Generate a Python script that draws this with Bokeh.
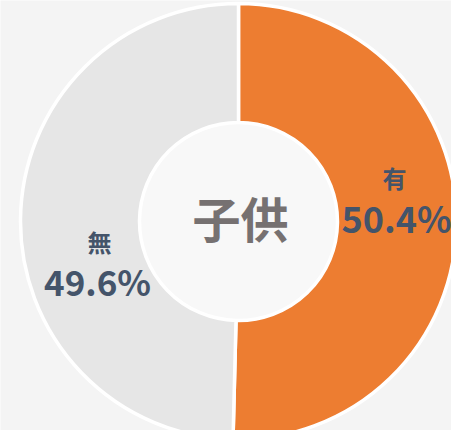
import numpy as np
from bokeh.plotting import figure
from bokeh.models import Range1d
from bokeh.core.properties import value
from bokeh.embed import file_html
from bokeh.resources import INLINE

# ---- data ----
categories = ["有", "無"]
shares = [50.4, 49.6]
share_labels = ["50.4%", "49.6%"]
colors = ["#ED7D31", "#E6E6E6"]
center_title = "子供"

# ---- layout (reference pixel space, y flipped) ----
H = 446
W_FIG, H_FIG = 451, 430
cx, cy = 246, H - 229
R_OUT, R_IN = 218, 99
FONT = "Noto Sans CJK JP"

p = figure(width=W_FIG, height=H_FIG, output_backend="svg", toolbar_location=None,
           x_range=Range1d(8, 8 + W_FIG), y_range=Range1d(H - 8 - H_FIG, H - 8),
           min_border=0)
p.axis.visible = False
p.grid.visible = False
p.outline_line_color = None
p.background_fill_color = "#F4F4F4"
p.border_fill_color = "#F4F4F4"

frac = np.array(shares) / sum(shares)
cum = np.concatenate([[0], np.cumsum(frac)]) * 2 * np.pi
start = np.pi / 2 - cum[:-1]
end = np.pi / 2 - cum[1:]

p.circle(x=[cx], y=[cy], radius=R_IN, fill_color="#F8F8F8", line_color=None)
p.annular_wedge(x=cx, y=cy, inner_radius=R_IN, outer_radius=R_OUT,
                start_angle=start, end_angle=end, direction="clock",
                fill_color=colors, line_color="white", line_width=3.5)

p.text(x=[cx + 2], y=[H - 224], text=[center_title], text_font=value(FONT),
       text_font_style="bold", text_font_size="48px", text_color="#767171",
       text_align="center", text_baseline="middle")

# category labels
lab_pos = [(402, 185, 404, 224), (107, 249, 105, 288)]
val_sizes = ["36px", "35px"]
for (nx, ny, vx, vy), cat, lab, vs in zip(lab_pos, categories, share_labels, val_sizes):
    p.text(x=[nx], y=[H - ny], text=[cat], text_font=value(FONT), text_font_style="bold",
           text_font_size="24px", text_color="#44546A", text_align="center",
           text_baseline="middle")
    p.text(x=[vx], y=[H - vy], text=[lab], text_font=value(FONT), text_font_style="bold",
           text_font_size=vs, text_color="#44546A", text_align="center",
           text_baseline="middle")

open("out.html", "w").write(file_html(p, INLINE))
